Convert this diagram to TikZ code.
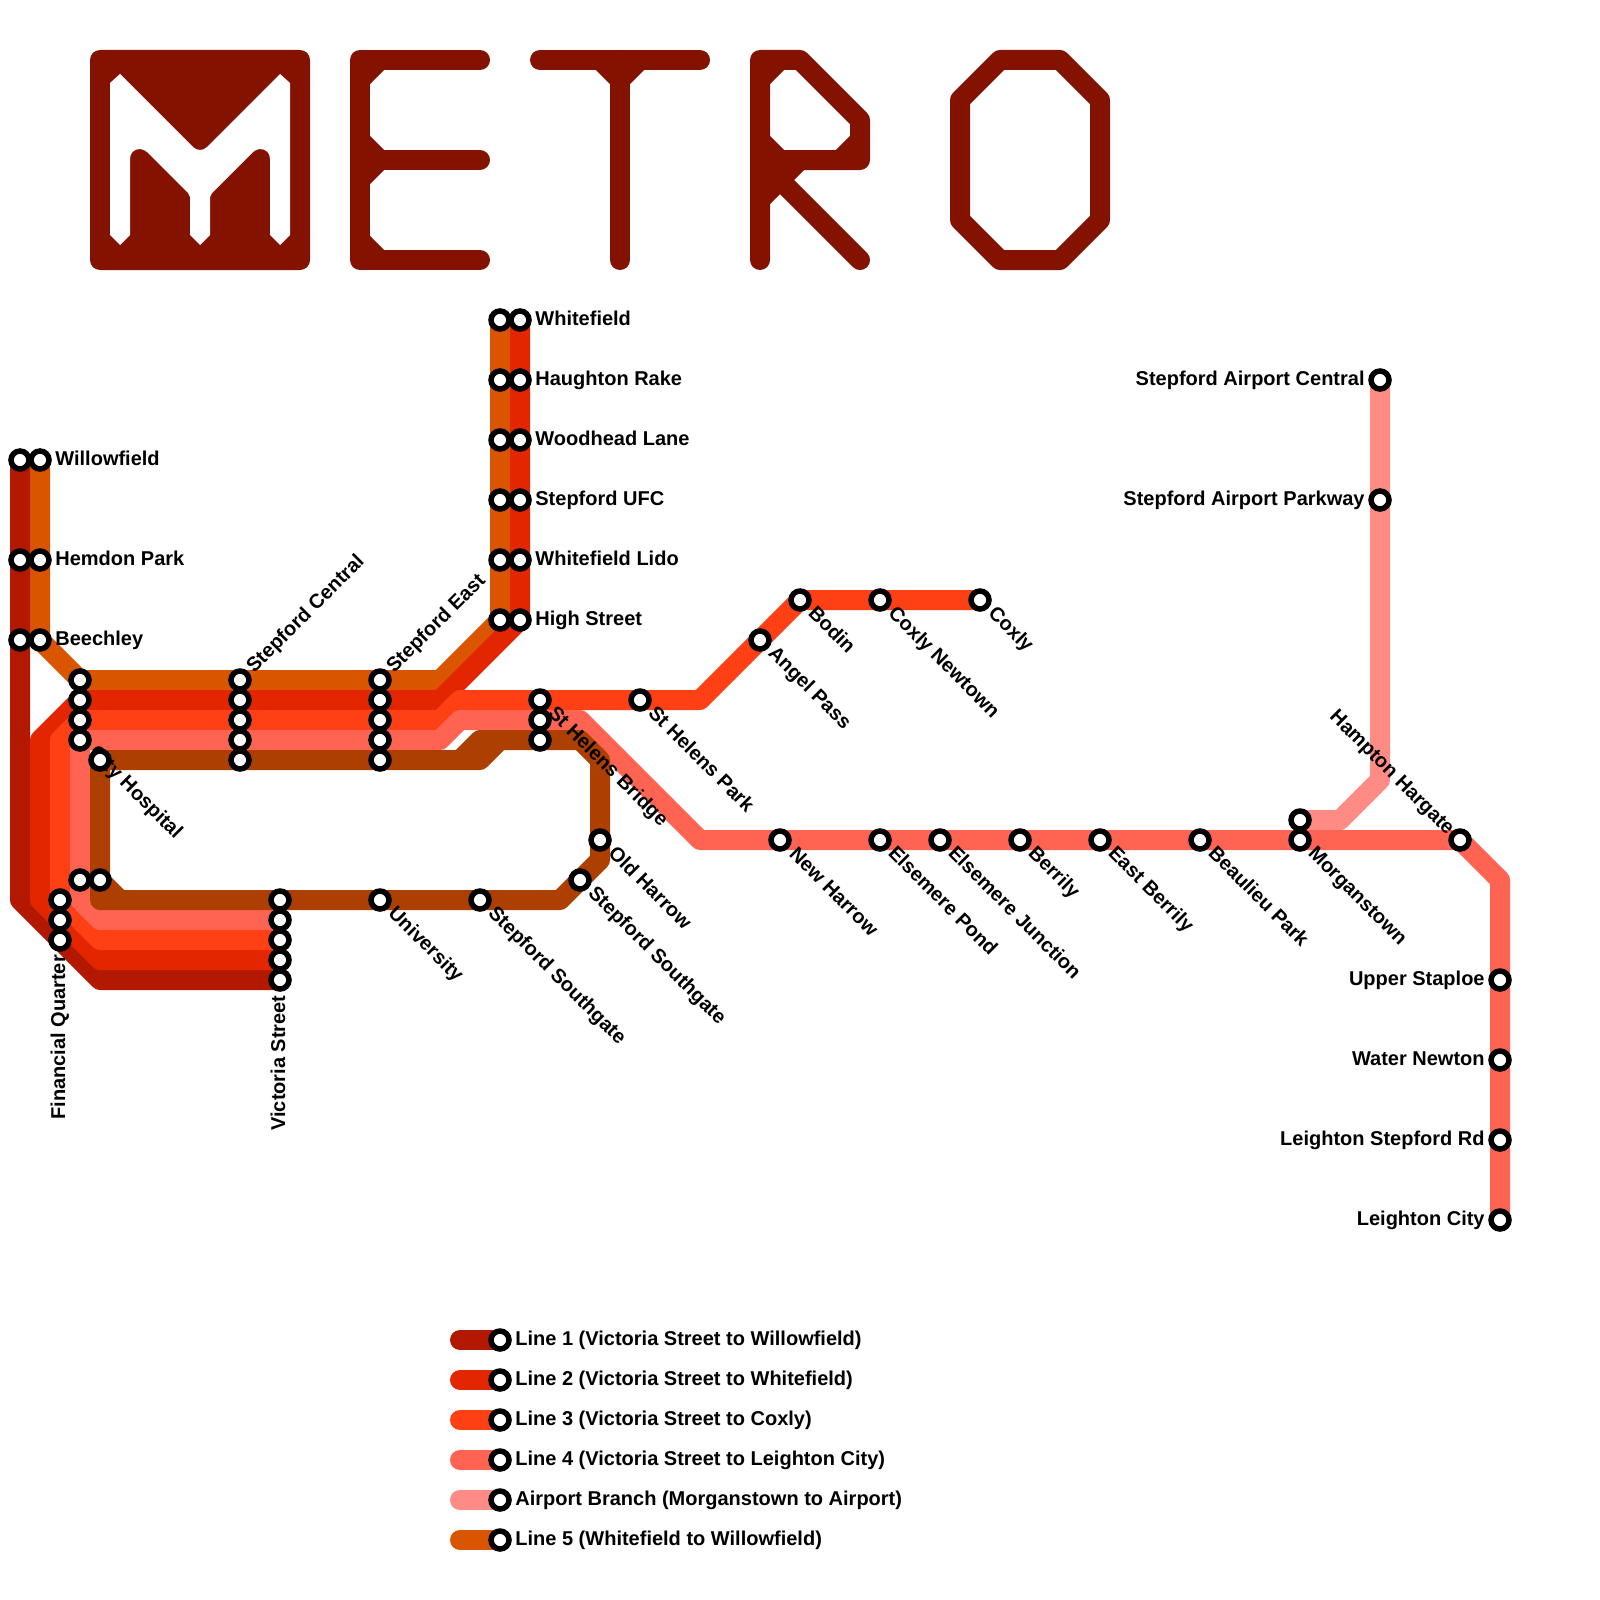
\documentclass[tikz,border=0pt]{standalone}
\usepackage{fontspec}
\setmainfont{Liberation Sans}
\definecolor{lone}{HTML}{B21900}
\definecolor{ltwo}{HTML}{E32600}
\definecolor{lthree}{HTML}{FF4015}
\definecolor{lfour}{HTML}{FF6352}
\definecolor{lair}{HTML}{FF8C84}
\definecolor{lfive}{HTML}{D95500}
\definecolor{lbrown}{HTML}{AD4000}
\definecolor{logo}{HTML}{841200}
\pgfdeclarelayer{lines}
\pgfdeclarelayer{labels}
\pgfsetlayers{lines,labels,main}
\tikzset{
  stn/.style={circle,draw=black,fill=white,line width=2.75pt,minimum size=9pt,inner sep=0pt},
  route/.style={line width=10pt,line cap=round,line join=round},
  txt/.style={inner sep=0pt,font=\fontsize{10}{12}\selectfont\bfseries,text=black},
  lr/.style={txt,anchor=base west},
  ll/.style={txt,anchor=base east},
  dn/.style={txt,anchor=base west,rotate=-45},
  up/.style={txt,anchor=base west,rotate=45},
  vert/.style={txt,anchor=base west,rotate=90},
  logostroke/.style={draw=logo,line width=10pt,line cap=round,line join=round}
}
\begin{document}
\begin{tikzpicture}[x=0.5pt,y=-0.5pt]
\useasboundingbox (0,0) rectangle (1600,1600);
% stations
\foreach \n/\x/\y in {w1/20/460,wf/40/460,hem1/20/560,hemf/40/560,bee1/20/640,beef/40/640,
 wcf/80/680,wc2/80/700,wc3/80/720,wc4/80/740,
 cenf/240/680,cen2/240/700,cen3/240/720,cen4/240/740,cenb/240/760,
 easf/380/680,eas2/380/700,eas3/380/720,eas4/380/740,easb/380/760,
 city/100/760,sth3/540/700,sth4/540/720,sthb/540/740,stp/640/700,
 ang/760/640,bod/800/600,cxn/880/600,cox/980/600,
 wtf/500/320,wt2/520/320,hrf/500/380,hr2/520/380,wlf/500/440,wl2/520/440,
 ufcf/500/500,ufc2/520/500,lidf/500/560,lid2/520/560,hif/500/620,hi2/520/620,
 fin3/60/900,fin2/60/920,fin1/60/940,fin4/80/880,finb/100/880,
 vicb/280/900,vic4/280/920,vic3/280/940,vic2/280/960,vic1/280/980,
 uni/380/900,ssa/480/900,ssb/580/880,old/600/840,
 nh/780/840,ep/880/840,ej/940/840,ber/1020/840,eb/1100/840,bp/1200/840,
 mor/1300/840,mora/1300/820,ham/1460/840,us/1500/980,wn/1500/1060,lst/1500/1140,lc/1500/1220,
 sac/1380/380,sap/1380/500,
 lga/500/1340,lgb/500/1380,lgc/500/1420,lgd/500/1460,lge/500/1500,lgf/500/1540}
 {\node[stn] (\n) at (\x,\y) {};}
\foreach \n/\y in {sa/1340,sb/1380,sc/1420,sd/1460,se/1500,sf/1540}
 {\coordinate (\n) at (460,\y);}
\begin{pgfonlayer}{lines}
\fill[white] (0,0) rectangle (1600,1600);
% Line 5
\draw[route,lfive] (wtf.center) -- (hrf.center) -- (wlf.center) -- (ufcf.center) -- (lidf.center) -- (hif.center) -- (440,680) -- (easf.center) -- (cenf.center) -- (wcf.center) -- (beef.center) -- (hemf.center) -- (wf.center);
% Line 1
\draw[route,lone] (vic1.center) -- (100,980) -- (fin1.center) -- (20,900) -- (bee1.center) -- (hem1.center) -- (w1.center);
% Line 2
\draw[route,ltwo] (vic2.center) -- (100,960) -- (fin2.center) -- (40,900) -- (40,740) -- (wc2.center) -- (cen2.center) -- (eas2.center) -- (440,700) -- (hi2.center) -- (lid2.center) -- (ufc2.center) -- (wl2.center) -- (hr2.center) -- (wt2.center);
% Line 3
\draw[route,lthree] (vic3.center) -- (100,940) -- (fin3.center) -- (60,740) -- (wc3.center) -- (cen3.center) -- (eas3.center) -- (440,720) -- (460,700) -- (sth3.center) -- (stp.center) -- (700,700) -- (ang.center) -- (bod.center) -- (cxn.center) -- (cox.center);
% Airport branch
\draw[route,lair] (mora.center) -- (1340,820) -- (1380,780) -- (sap.center) -- (sac.center);
% Line 4
\draw[route,lfour] (vic4.center) -- (100,920) -- (80,900) -- (fin4.center) -- (wc4.center) -- (cen4.center) -- (eas4.center) -- (440,740) -- (460,720) -- (sth4.center) -- (580,720) -- (700,840) -- (nh.center) -- (ep.center) -- (ej.center) -- (ber.center) -- (eb.center) -- (bp.center) -- (mor.center) -- (ham.center) -- (1500,880) -- (us.center) -- (wn.center) -- (lst.center) -- (lc.center);
% Brown loop
\draw[route,lbrown] (city.center) -- (cenb.center) -- (easb.center) -- (480,760) -- (500,740) -- (sthb.center) -- (580,740) -- (600,760) -- (old.center) -- (600,860) -- (ssb.center) -- (560,900) -- (ssa.center) -- (uni.center) -- (vicb.center) -- (100,900) -- (finb.center) -- (city.center);
\draw[route,lbrown] (finb.center) -- (120,900);
\draw[route,lbrown] (460,760) -- (480,740) -- (500,740);
% Legend swatches
\draw[route,lone] (sa) -- (lga.center);
\draw[route,ltwo] (sb) -- (lgb.center);
\draw[route,lthree] (sc) -- (lgc.center);
\draw[route,lfour] (sd) -- (lgd.center);
\draw[route,lair] (se) -- (lge.center);
\draw[route,lfive] (sf) -- (lgf.center);
% Logo: M
\fill[logo,rounded corners=5pt] (90,50) rectangle (310,270);
\fill[white] (110,83) -- (120,74) -- (193,147) .. controls (197,151) and (203,151) .. (207,147) -- (280,74) -- (290,83) -- (290,235) -- (280,245) -- (270,235) -- (270,159) .. controls (270,153) and (266,149) .. (260,149) .. controls (258,149) and (256,150) .. (253,152) -- (212,193) -- (210,197) -- (210,235) -- (200,245) -- (190,235) -- (190,197) -- (188,193) -- (147,152) .. controls (144,150) and (142,149) .. (140,149) .. controls (134,149) and (130,153) .. (130,159) -- (130,235) -- (120,245) -- (110,235) -- cycle;
% E
\draw[logostroke] (480,60) -- (360,60) -- (360,260) -- (480,260);
\draw[logostroke] (360,160) -- (480,160);
\draw[logostroke,line cap=butt] (360,80) -- (380,60) (360,140) -- (380,160) -- (360,180) (360,240) -- (380,260);
% T
\draw[logostroke] (540,60) -- (700,60);
\draw[logostroke] (620,60) -- (620,260);
\draw[logostroke,line cap=butt] (600,60) -- (620,80) -- (640,60);
% R
\draw[logostroke] (760,260) -- (760,60) -- (800,60) -- (860,120) -- (860,160) -- (760,160) -- (860,260);
\draw[logostroke,line cap=butt] (760,80) -- (780,60) (760,140) -- (780,160) (860,140) -- (840,160) (760,200) -- (800,160);
% O
\draw[logostroke] (960,100) -- (1000,60) -- (1060,60) -- (1100,100) -- (1100,220) -- (1060,260) -- (1000,260) -- (960,220) -- cycle;
\end{pgfonlayer}
\begin{pgfonlayer}{labels}
\node[lr] (lwf) at (55,465) {Willowfield};
\node[lr] (lhp) at (55,565) {Hemdon Park};
\node[lr] (lbe) at (55,645) {Beechley};
\node[lr] (lwt) at (535,325) {Whitefield};
\node[lr] (lhr) at (535,385) {Haughton Rake};
\node[lr] (lwl) at (535,445) {Woodhead Lane};
\node[lr] (luf) at (535,505) {Stepford UFC};
\node[lr] (lli) at (535,565) {Whitefield Lido};
\node[lr] (lhi) at (535,625) {High Street};
\node[ll] (lsa) at (1365,385) {Stepford Airport Central};
\node[ll] (lsp) at (1365,505) {Stepford Airport Parkway};
\node[ll] (lus) at (1485,985) {Upper Staploe};
\node[ll] (lwn) at (1485,1065) {Water Newton};
\node[ll] (lls) at (1485,1145) {Leighton Stepford Rd};
\node[ll] (llc) at (1485,1225) {Leighton City};
\node[up] (lsc) at (254,674) {Stepford Central};
\node[up] (lse) at (394,674) {Stepford East};
\node[dn] (lch) at (88,753) {City Hospital};
\node[dn] (lsb) at (547,714) {St Helens Bridge};
\node[dn] (lsh) at (647,714) {St Helens Park};
\node[dn] (lan) at (767,654) {Angel Pass};
\node[dn] (lbo) at (807,614) {Bodin};
\node[dn] (lcn) at (887,614) {Coxly Newtown};
\node[dn] (lco) at (987,614) {Coxly};
\node[dn] (lnh) at (788,855) {New Harrow};
\node[dn] (lep) at (887,854) {Elsemere Pond};
\node[dn] (lej) at (947,854) {Elsemere Junction};
\node[dn] (lbr) at (1027,854) {Berrily};
\node[dn] (leb) at (1107,854) {East Berrily};
\node[dn] (lbp) at (1207,854) {Beaulieu Park};
\node[dn] (lmo) at (1307,854) {Morganstown};
\node[dn] (lol) at (607,854) {Old Harrow};
\node[dn] (lsg) at (587,894) {Stepford Southgate};
\node[dn] (lun) at (387,914) {University};
\node[dn] (lsh2) at (487,914) {Stepford Southgate};
\node[txt,anchor=base east,rotate=-45] (lha) at (1447,836) {Hampton Hargate};
\node[vert] (lfq) at (65,1120) {Financial Quarter};
\node[vert] (lvs) at (285,1131) {Victoria Street};
\node[lr] (lga1) at (515,1345) {Line 1 (Victoria Street to Willowfield)};
\node[lr] (lgb1) at (515,1385) {Line 2 (Victoria Street to Whitefield)};
\node[lr] (lgc1) at (515,1425) {Line 3 (Victoria Street to Coxly)};
\node[lr] (lgd1) at (515,1465) {Line 4 (Victoria Street to Leighton City)};
\node[lr] (lge1) at (515,1505) {Airport Branch (Morganstown to Airport)};
\node[lr] (lgf1) at (515,1545) {Line 5 (Whitefield to Willowfield)};
\end{pgfonlayer}
\end{tikzpicture}
\end{document}
